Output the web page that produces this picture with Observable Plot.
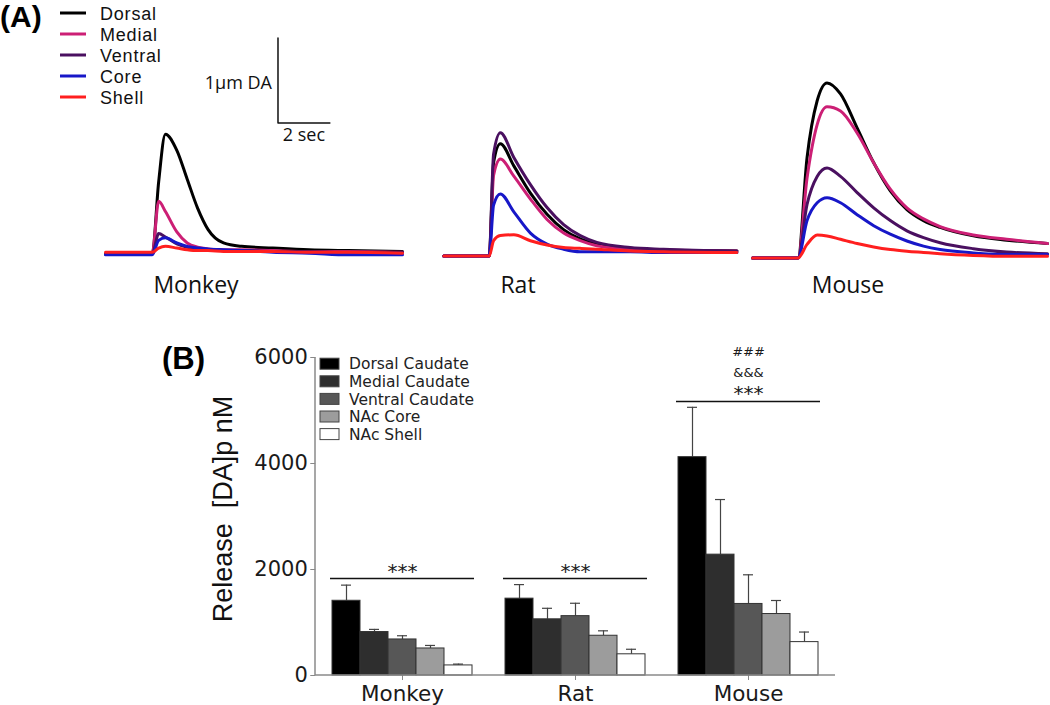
<!DOCTYPE html>
<html><head><meta charset="utf-8">
<script src="https://cdn.jsdelivr.net/npm/d3@7"></script>
<script src="https://cdn.jsdelivr.net/npm/@observablehq/plot@0.6"></script>
<style>
body{margin:0;background:#fff;}
#root{position:relative;width:1050px;height:705px;overflow:hidden;background:#fff;}
#root > svg{position:absolute;}
</style></head><body><div id="root"></div>
<script>
// ---------- Panel A: voltammetry traces ----------
const regions = ["Dorsal","Medial","Ventral","Core","Shell"];
const traceColors = ["#000000","#cc1f75","#4a1060","#1717c8","#ff1f1f"];

const monkeyTime    = [-1.85,-0.05,0.2,0.46,0.9,1.3,1.7,2.1,2.7,3.4,4.6,6.0,7.5,9.6];
const monkeyDorsal  = [0,0,0.85,1.41,1.22,0.88,0.54,0.29,0.13,0.09,0.07,0.05,0.04,0.03];
const monkeyMedial  = [0,0,0.62,0.5,0.26,0.13,0.08,0.06,0.05,0.05,0.04,0.03,0.03,0.02];
const monkeyVentral = [0,0,0.24,0.2,0.12,0.08,0.06,0.05,0.04,0.04,0.03,0.03,0.02,0.02];
const monkeyCore    = [-0.01,-0.01,0.16,0.19,0.13,0.09,0.07,0.06,0.05,0.04,0.02,0.01,-0.01,-0.01];
const monkeyShell   = [0.02,0.02,0.07,0.09,0.07,0.05,0.04,0.04,0.03,0.03,0.03,0.02,0.02,0.01];

const ratTime    = [-1.8,-0.05,0.12,0.38,0.9,1.54,2.18,2.82,3.46,4.1,5.38,6.67,9.5];
const ratDorsal  = [0,0,1.1,1.32,1.06,0.74,0.49,0.31,0.2,0.14,0.09,0.07,0.06];
const ratMedial  = [0,0,0.95,1.14,0.94,0.67,0.43,0.27,0.18,0.12,0.08,0.07,0.06];
const ratVentral = [0,0,1.2,1.45,1.16,0.84,0.57,0.37,0.24,0.16,0.1,0.08,0.06];
const ratCore    = [0,0,0.6,0.73,0.52,0.27,0.14,0.08,0.05,0.05,0.05,0.04,0.04];
const ratShell   = [0,0,0.18,0.24,0.25,0.18,0.13,0.1,0.09,0.08,0.06,0.05,0.04];

const mouseTime    = [-1.77,-0.02,0.33,0.72,1.1,1.62,2.26,2.9,3.54,4.18,4.82,5.46,6.74,8.03,9.6];
const mouseDorsal  = [0,0,1.18,1.85,2.06,1.93,1.53,1.12,0.79,0.57,0.44,0.36,0.26,0.21,0.17];
const mouseMedial  = [0,0,0.94,1.57,1.78,1.73,1.47,1.12,0.81,0.59,0.46,0.37,0.27,0.22,0.17];
const mouseVentral = [0,0,0.63,0.96,1.06,0.96,0.77,0.59,0.44,0.32,0.24,0.18,0.11,0.07,0.05];
const mouseCore    = [0,0,0.44,0.65,0.71,0.65,0.51,0.38,0.28,0.2,0.14,0.1,0.06,0.04,0.04];
const mouseShell   = [0,0,0.16,0.27,0.26,0.22,0.17,0.13,0.1,0.08,0.065,0.05,0.03,0.02,0.02];

const traceSpecies = ["Monkey","Rat","Mouse"];

// scale bar: 1 µM by 2 s
const scaleBar = {t0: 4.8, v0: 1.54, seconds: 2, micromolar: 1};

// ---------- Panel B: release bars ----------
const species = ["Monkey","Rat","Mouse"];
const barRegions = ["Dorsal Caudate","Medial Caudate","Ventral Caudate","NAc Core","NAc Shell"];
const barFills = ["#000000","#2e2e2e","#575757","#9c9c9c","#ffffff"];
const monkeyRelease = [1410, 820, 680, 510, 190];
const monkeySEM     = [295, 50, 70, 57, 25];
const ratRelease    = [1450, 1060, 1120, 750, 400];
const ratSEM        = [265, 208, 243, 93, 95];
const mouseRelease  = [4120, 2280, 1350, 1160, 630];
const mouseSEM      = [940, 1040, 550, 255, 190];
const yTicks = [0, 2000, 4000, 6000];

const sigSpecies = ["Monkey","Rat","Mouse"];
const sigLevel   = [1830, 1830, 5170];
const sigStars   = ["***","***","***"];
const mouseVsRat = "&&&";
const mouseVsMonkey = "###";

// ---------- build ----------
const root = document.getElementById("root");

function tracePlot(time, series, extra) {
  const rows = regions.flatMap((r, i) => time.map((t, j) => ({region: r, t, v: series[i][j]})));
  return Plot.plot({
    width: 297, height: 255, margin: 0,
    x: {domain: [-1.85, 9.6], axis: null},
    y: {domain: [-0.3, 2.7], axis: null},
    color: {domain: regions, range: traceColors},
    style: {background: "transparent", overflow: "visible", fontFamily: "Open Sans", fontSize: "18px", color: "#111"},
    marks: [
      Plot.line(rows, {x: "t", y: "v", z: "region", stroke: "region", strokeWidth: 3, curve: "monotone-x", strokeLinejoin: "round"}),
      ...(extra || [])
    ]
  });
}

const sb = scaleBar;
const scaleMarks = [
  Plot.line([[sb.t0, sb.v0 + sb.micromolar], [sb.t0, sb.v0], [sb.t0 + sb.seconds, sb.v0]], {stroke: "#111", strokeWidth: 1.5}),
  Plot.text([[sb.t0, sb.v0 + sb.micromolar / 2]], {text: () => "1µm DA", textAnchor: "end", dx: -6, dy: 3, fontSize: 18}),
  Plot.text([[sb.t0 + sb.seconds / 2, sb.v0]], {text: () => "2 sec", lineAnchor: "top", dy: 5, fontSize: 18})
];

const pMonkey = tracePlot(monkeyTime, [monkeyDorsal, monkeyMedial, monkeyVentral, monkeyCore, monkeyShell], scaleMarks);
const pRat = tracePlot(ratTime, [ratDorsal, ratMedial, ratVentral, ratCore, ratShell]);
const pMouse = tracePlot(mouseTime, [mouseDorsal, mouseMedial, mouseVentral, mouseCore, mouseShell]);
[[pMonkey, 105, 23.5], [pRat, 442, 25.5], [pMouse, 750, 27.5]].forEach(([p, l, t]) => {
  p.style.left = l + "px"; p.style.top = t + "px"; root.appendChild(p);
});

// Panel B
const releases = [monkeyRelease, ratRelease, mouseRelease];
const sems = [monkeySEM, ratSEM, mouseSEM];
const barRows = species.flatMap((s, si) => barRegions.map((r, ri) => ({species: s, region: r, value: releases[si][ri], top: releases[si][ri] + sems[si][ri]})));
const sigRows = sigSpecies.map((s, i) => ({species: s, level: sigLevel[i], label: sigStars[i]}));
const mouseSig = sigRows.filter(d => d.species === "Mouse");

const bW = 720, bML = 165, bMR = 35;
const padIn = 0.169, padOut = 0.085;
const fxStep = (bW - bML - bMR) / (species.length - padIn + 2 * padOut);
const facetOffset = padOut * fxStep; // gap between frame edge and first facet

const pB = Plot.plot({
  width: bW, height: 375,
  marginLeft: bML, marginRight: bMR, marginTop: 27, marginBottom: 30,
  style: {fontFamily: "DejaVu Sans", fontSize: "20px", color: "#1a1a1a", background: "transparent", overflow: "visible"},
  fx: {domain: species, paddingInner: padIn, paddingOuter: padOut},
  x: {domain: barRegions, axis: null, padding: 0},
  y: {domain: [0, 6000]},
  color: {domain: barRegions, range: barFills},
  marks: [
    Plot.axisY({ticks: yTicks, tickFormat: d3.format("d"), tickSize: 5, tickPadding: 3, dx: -facetOffset, label: null, fontSize: 21, stroke: "#888"}),
    Plot.axisFx({anchor: "bottom", tickSize: 5, tickPadding: 5, label: null, fontSize: 21.5, stroke: "#888"}),
    Plot.ruleX(barRows, {fx: "species", x: "region", y1: "value", y2: "top", stroke: "#444", strokeWidth: 1.2}),
    Plot.tickY(barRows, {fx: "species", x: "region", y: "top", stroke: "#444", strokeWidth: 1.2, insetLeft: 9, insetRight: 9}),
    Plot.barY(barRows, {fx: "species", x: "region", y: "value", fill: "region", stroke: "#333", strokeWidth: 1}),
    Plot.ruleY(sigRows, {fx: "species", y: "level", stroke: "#111", strokeWidth: 1.3}),
    Plot.text(sigRows, {fx: "species", y: "level", text: "label", lineAnchor: "bottom", dy: -1, fontSize: 20}),
    Plot.text(mouseSig, {fx: "species", y: "level", text: () => mouseVsRat, lineAnchor: "bottom", dy: -24, fontSize: 13}),
    Plot.text(mouseSig, {fx: "species", y: "level", text: () => mouseVsMonkey, lineAnchor: "bottom", dy: -45, fontSize: 13})
  ]
});
pB.style.left = "150px"; pB.style.top = "330px";
root.appendChild(pB);
// axis lines spanning the full frame
{
  const ys = pB.scale("y"), fxs = pB.scale("fx");
  const g = d3.select(pB).append("g").attr("stroke", "#8a8a8a").attr("stroke-width", 1.5);
  g.append("line").attr("x1", fxs.range[0]).attr("x2", fxs.range[1]).attr("y1", ys.apply(0)).attr("y2", ys.apply(0));
  g.append("line").attr("x1", fxs.range[0]).attr("x2", fxs.range[0]).attr("y1", ys.apply(0)).attr("y2", ys.apply(6000));
}

// ---------- overlay text & legends ----------
const ov = d3.select(root).append("svg").attr("width", 1050).attr("height", 705).style("left", "0px").style("top", "0px").style("overflow", "visible");
ov.append("text").attr("x", 0).attr("y", 27).attr("font-family", "Liberation Sans, Arial").attr("font-weight", "bold").attr("font-size", 30).text("(A)");
ov.append("text").attr("x", 162).attr("y", 369).attr("font-family", "Liberation Sans, Arial").attr("font-weight", "bold").attr("font-size", 31).text("(B)");
regions.forEach((r, i) => {
  const y = 13 + 21 * i;
  ov.append("line").attr("x1", 60).attr("x2", 86).attr("y1", y).attr("y2", y).attr("stroke", traceColors[i]).attr("stroke-width", 3);
  ov.append("text").attr("x", 100).attr("y", y + 7).attr("font-family", "Liberation Sans, Arial").attr("font-size", 18).attr("letter-spacing", 0.8).attr("fill", "#111").text(r);
});
[196, 518, 848].forEach((x, i) => {
  ov.append("text").attr("x", x).attr("y", 293).attr("text-anchor", "middle").attr("font-family", "Open Sans").attr("font-size", 23).attr("fill", "#111").text(traceSpecies[i]);
});
barRegions.forEach((r, i) => {
  const cy = 363.7 + 17.6 * i;
  ov.append("rect").attr("x", 320).attr("y", cy - 5.5).attr("width", 19).attr("height", 11).attr("fill", barFills[i]).attr("stroke", "#444").attr("stroke-width", 1);
  ov.append("text").attr("x", 349).attr("y", cy + 5.6).attr("font-family", "DejaVu Sans").attr("font-size", 15.5).attr("fill", "#222").text(r);
});
ov.append("text").attr("transform", "translate(231.7,509) rotate(-90)").attr("text-anchor", "middle").attr("font-family", "Liberation Sans, Arial").attr("font-size", 27).attr("fill", "#111").style("white-space", "pre").text("Release  [DA]p nM");
</script></body></html>
